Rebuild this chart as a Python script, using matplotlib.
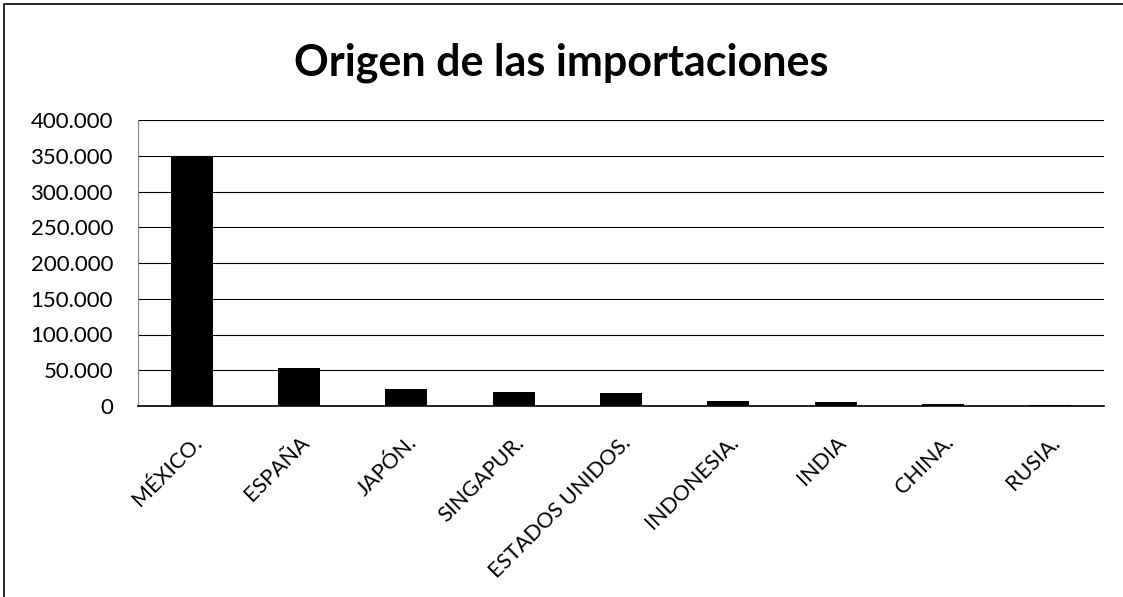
import numpy as np
import matplotlib
matplotlib.use("Agg")
import matplotlib.pyplot as plt
from matplotlib.ticker import FuncFormatter
from matplotlib.patches import Rectangle

paises = ["MÉXICO.", "ESPAÑA", "JAPÓN.", "SINGAPUR.", "ESTADOS UNIDOS.",
          "INDONESIA.", "INDIA", "CHINA.", "RUSIA."]
valores = [350000, 52500, 23300, 20000, 17700, 7500, 5100, 2800, 2000]

plt.rcParams["font.family"] = ["Lato", "DejaVu Sans"]

fig = plt.figure(figsize=(11.23, 5.97), dpi=100)
# plot area: x 138..1104 px, y 120..406 px
ax = fig.add_axes([138 / 1123, (597 - 406) / 597, 966 / 1123, 286 / 597])

x = np.arange(len(paises))
ax.bar(x, valores, width=0.39, color="black", zorder=3)
ax.set_xlim(-0.5, len(paises) - 0.5)
ax.set_ylim(0, 400000)
ax.set_yticks(np.arange(0, 400001, 50000))
ax.yaxis.set_major_formatter(FuncFormatter(lambda v, p: f"{int(v):,}".replace(",", ".")))
ax.grid(axis="y", color="black", lw=0.8, zorder=0)
ax.tick_params(length=0)
ax.tick_params(axis="y", labelsize=16, pad=18)
ax.tick_params(axis="x", labelsize=15.5, pad=19)
ax.set_xticks(x)
ax.set_xticklabels(paises, rotation=45, ha="right", rotation_mode="anchor")
for s in ["top", "right"]:
    ax.spines[s].set_visible(False)
ax.spines["left"].set_color("#888888")
ax.spines["bottom"].set_color("black")
ax.spines["bottom"].set_linewidth(1.2)

fig.text(0.5, 0.895, "Origen de las importaciones", ha="center", va="center",
         fontsize=31, fontweight="bold")

# chart frame
fig.patches.append(Rectangle((0.004, -0.1), 1.2, 1.093, transform=fig.transFigure,
                             fill=False, edgecolor="black", lw=1.2))

fig.savefig("out.png", dpi=100, facecolor="white")
